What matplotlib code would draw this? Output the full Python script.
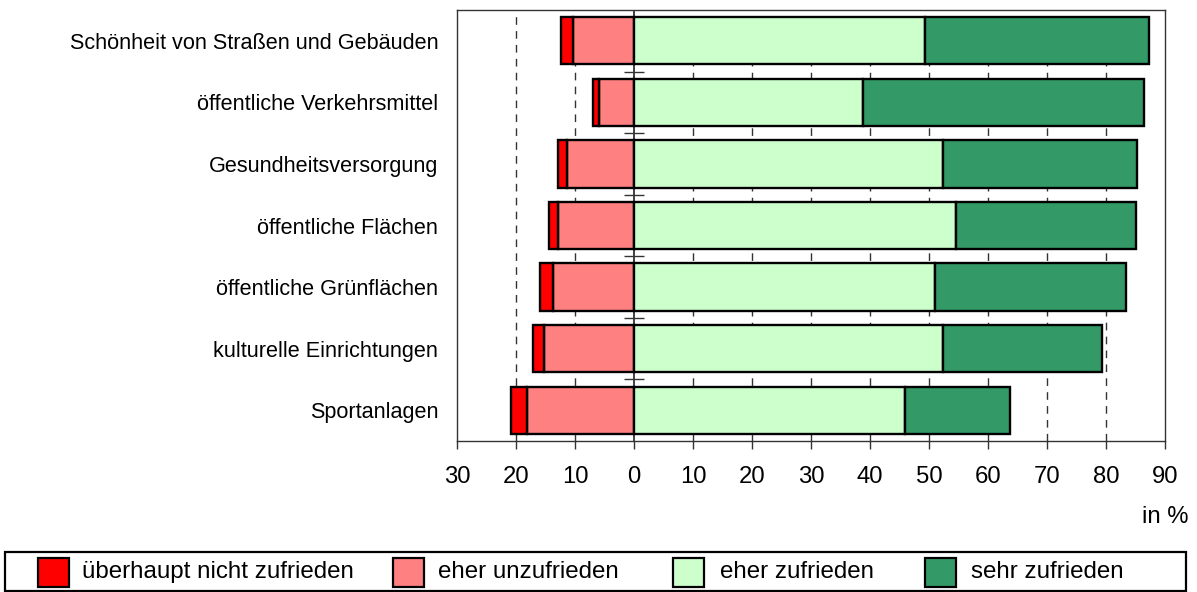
import matplotlib
matplotlib.use("Agg")
import matplotlib.pyplot as plt
from matplotlib.patches import Rectangle
import numpy as np

plt.rcParams['font.family'] = ['Liberation Sans', 'DejaVu Sans']

categories = ["Schönheit von Straßen und Gebäuden", "öffentliche Verkehrsmittel",
              "Gesundheitsversorgung", "öffentliche Flächen", "öffentliche Grünflächen",
              "kulturelle Einrichtungen", "Sportanlagen"]
ueberhaupt_nicht = [2.1, 0.9, 1.4, 1.6, 2.2, 2.0, 2.6]
eher_unzufrieden = [10.3, 6.0, 11.4, 12.8, 13.7, 15.2, 18.2]
eher_zufrieden = [49.3, 38.8, 52.4, 54.6, 51.0, 52.4, 45.9]
sehr_zufrieden = [38.0, 47.7, 32.8, 30.5, 32.4, 27.0, 17.8]
series_names = ["überhaupt nicht zufrieden", "eher unzufrieden", "eher zufrieden", "sehr zufrieden"]
colors = ["#FF0000", "#FF8080", "#CCFFCC", "#339966"]
xticks = list(range(-30, 100, 10))
xticklabels = ["30", "20", "10", "0", "10", "20", "30", "40", "50", "60", "70", "80", "90"]

W, H = 1197, 592
fig = plt.figure(figsize=(W / 100, H / 100), dpi=100)
ax = fig.add_axes([457 / W, (H - 441) / H, (1165 - 457) / W, (441 - 10) / H])

y = np.arange(len(categories))
un = np.array(ueberhaupt_nicht)
eu = np.array(eher_unzufrieden)
ez = np.array(eher_zufrieden)
sz = np.array(sehr_zufrieden)
bh = 0.77
kw = dict(height=bh, edgecolor="black", linewidth=1.7, zorder=3)
ax.barh(y, -eu, left=0, color=colors[1], **kw)
ax.barh(y, -un, left=-eu, color=colors[0], **kw)
ax.barh(y, ez, left=0, color=colors[2], **kw)
ax.barh(y, sz, left=ez, color=colors[3], **kw)

ax.set_xlim(-30, 90)
ax.set_ylim(len(categories) - 0.5, -0.5)
ax.set_xticks(xticks)
ax.set_xticklabels(xticklabels, fontsize=17.2)
ax.set_yticks(y)
ax.set_yticklabels(categories, fontsize=15.6)
ax.tick_params(axis="y", length=0, pad=13.5)
ax.tick_params(axis="x", direction="out", length=6, width=1, color="#333333", pad=12)

for xv in xticks[1:-1]:
    if xv == 0:
        ax.axvline(0, color="#222222", lw=1.2, zorder=2)
    else:
        ax.axvline(xv, color="#333333", lw=1, ls=(0, (5.5, 4.5)), zorder=1)

bounds = np.arange(len(categories) - 1) + 0.5
ax.plot(np.zeros_like(bounds), bounds, ls="none", marker="_", markersize=14,
        markeredgewidth=1, color="#333333", zorder=2)

for s in ax.spines.values():
    s.set_color("#333333")
    s.set_linewidth(1)

fig.text(1189 / W, (H - 523) / H, "in %", ha="right", va="baseline", fontsize=17.2)

# legend box
fig.patches.append(Rectangle((5 / W, 1 / H), (1186 - 5) / W, (591 - 552) / H,
                             transform=fig.transFigure, facecolor="white",
                             edgecolor="black", linewidth=1.6))
patch_x = [38, 393, 673, 925]
text_x = [82, 438, 720, 971]
for px, tx, c, name in zip(patch_x, text_x, colors, series_names):
    fig.patches.append(Rectangle((px / W, (H - 587) / H), 31 / W, 29 / H,
                                 transform=fig.transFigure, facecolor=c,
                                 edgecolor="black", linewidth=1.6))
    fig.text(tx / W, (H - 572) / H, name, ha="left", va="center", fontsize=17.4)

fig.savefig("out.png", dpi=100)
